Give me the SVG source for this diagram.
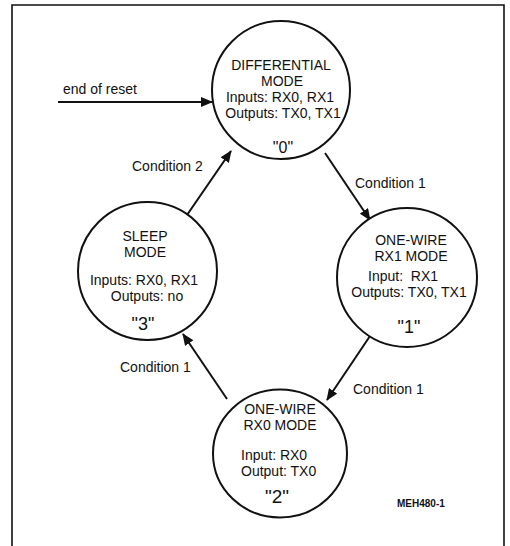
<svg xmlns="http://www.w3.org/2000/svg" width="510" height="546" viewBox="0 0 510 546">
<defs>
<style>
text{font-family:"Liberation Sans",Arial,sans-serif;fill:#111;font-size:14px}
.c{text-anchor:middle}
.q{text-anchor:middle;font-size:18px}
.st{fill:#fff;stroke:#111;stroke-width:2}
.ln{stroke:#111;stroke-width:2;fill:none;marker-end:url(#ah)}
.fr{stroke:#111;stroke-width:1.6;fill:none}
.id{font-size:10px;font-weight:bold}
</style>
<marker id="ah" markerWidth="12" markerHeight="10" refX="11" refY="5" orient="auto" markerUnits="userSpaceOnUse">
<path d="M0,0 L12,5 L0,10 Z" fill="#111"/>
</marker>
</defs>
<rect width="510" height="546" fill="#fff"/>
<path class="fr" d="M12,546 V5 H504 V546"/>
<g id="connectors">
<line class="ln" x1="58" y1="102" x2="212" y2="102"/>
<line class="ln" x1="187" y1="215" x2="231" y2="151"/>
<line class="ln" x1="325" y1="153" x2="370" y2="220"/>
<line class="ln" x1="370" y1="336" x2="327" y2="400"/>
<line class="ln" x1="227" y1="399" x2="183" y2="334"/>
<text x="63" y="94">end of reset</text>
<text x="132" y="171">Condition 2</text>
<text x="355" y="188">Condition 1</text>
<text x="353" y="394">Condition 1</text>
<text x="120" y="372">Condition 1</text>
</g>
<g id="state0">
<ellipse class="st" cx="281" cy="90" rx="69" ry="69"/>
<text class="c" x="281" y="70">DIFFERENTIAL</text>
<text class="c" x="282" y="86">MODE</text>
<text class="c" x="280" y="102">Inputs: RX0, RX1</text>
<text class="c" x="283" y="118">Outputs: TX0, TX1</text>
<text class="q" x="283" y="153" style="font-size:16px">"0"</text>
</g>
<g id="state1">
<ellipse class="st" cx="407" cy="277.5" rx="70" ry="69.5"/>
<text class="c" x="411" y="245">ONE-WIRE</text>
<text class="c" x="411" y="261">RX1 MODE</text>
<text x="368" y="281">Input:&#160; RX1</text>
<text class="c" x="409" y="297">Outputs: TX0, TX1</text>
<text class="q" x="409" y="333">"1"</text>
</g>
<g id="state3">
<ellipse class="st" cx="147.5" cy="271" rx="69.5" ry="69"/>
<text class="c" x="145" y="241">SLEEP</text>
<text class="c" x="145" y="257">MODE</text>
<text class="c" x="144" y="285">Inputs: RX0, RX1</text>
<text class="c" x="147" y="301">Outputs: no</text>
<text class="q" x="143" y="330">"3"</text>
</g>
<g id="state2">
<ellipse class="st" cx="280" cy="453.5" rx="67" ry="64"/>
<text class="c" x="280" y="414">ONE-WIRE</text>
<text class="c" x="280" y="430">RX0 MODE</text>
<text x="241" y="460">Input: RX0</text>
<text x="241" y="476">Output: TX0</text>
<text class="q" x="277" y="503" style="font-size:19px">"2"</text>
</g>
<text class="id" x="397" y="507">MEH480-1</text>
</svg>
